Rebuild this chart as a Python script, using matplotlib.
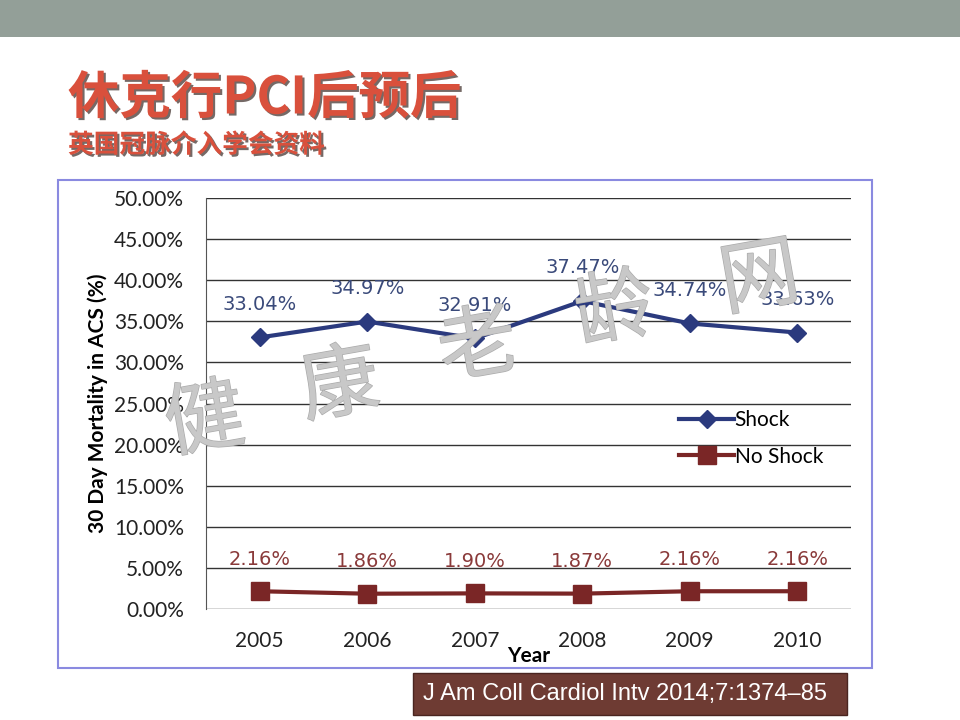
import numpy as np
import matplotlib.pyplot as plt
import matplotlib.patheffects as pe
from matplotlib.patches import Rectangle
from matplotlib.ticker import FuncFormatter

years = ['2005', '2006', '2007', '2008', '2009', '2010']
shock = [33.04, 34.97, 32.91, 37.47, 34.74, 33.63]
no_shock = [2.16, 1.86, 1.90, 1.87, 2.16, 2.16]
watermark = ['健', '康', '老', '龄', '网']

cjk = ['Noto Sans CJK SC', 'DejaVu Sans']
plt.rcParams['font.family'] = ['Lato', 'DejaVu Sans']

fig = plt.figure(figsize=(9.6, 7.2), dpi=100)
W, H = 960, 720

def fx(px):
    return px / W

def fy(py):
    return 1 - py / H

# top band
fig.patches.append(Rectangle((0, fy(37)), 1, 37 / H, transform=fig.transFigure,
                             facecolor='#939F98', edgecolor='none', zorder=0))

# title
shadow = [pe.withSimplePatchShadow(offset=(1.5, -1.5), shadow_rgbFace='#3a2a25', alpha=0.7)]
fig.text(fx(68), fy(98), '休克行PCI后预后', family=cjk, fontweight='black', fontsize=37,
         color='#D9503C', va='center', ha='left', path_effects=shadow)
fig.text(fx(68), fy(145), '英国冠脉介入学会资料', family=cjk, fontweight='black', fontsize=18.5,
         color='#D9503C', va='center', ha='left', path_effects=shadow)

# chart frame
fig.patches.append(Rectangle((fx(58), fy(668)), (872 - 58) / W, (668 - 180) / H,
                             transform=fig.transFigure, facecolor='white',
                             edgecolor='#8A8AE0', linewidth=1.5, zorder=1))

ax = fig.add_axes([fx(206), fy(609), (851 - 206) / W, (609 - 198) / H], zorder=2)
ax.set_facecolor('none')
x = np.arange(len(years))

ax.plot(x, shock, color='#2B3A7E', linewidth=3, marker='D', markersize=9, label='Shock', zorder=3)
ax.plot(x, no_shock, color='#7A2626', linewidth=3, marker='s', markersize=13, label='No Shock', zorder=3)

for xi, v in zip(x, shock):
    ax.annotate(f'{v:.2f}%', (xi, v), xytext=(0, 24), textcoords='offset points',
                ha='center', va='center', fontsize=14, color='#3A4A7A', family='DejaVu Sans')
for xi, v in zip(x, no_shock):
    ax.annotate(f'{v:.2f}%', (xi, v), xytext=(0, 23), textcoords='offset points',
                ha='center', va='center', fontsize=14, color='#8A3A3A', family='DejaVu Sans')

ax.set_xlim(-0.5, 5.5)
ax.set_ylim(0, 50)
ax.set_yticks(np.arange(0, 51, 5))
ax.yaxis.set_major_formatter(FuncFormatter(lambda v, p: f'{v:.2f}%'))
ax.set_xticks(x)
ax.set_xticklabels(years)
ax.tick_params(axis='both', length=0, labelsize=15, colors='#222222')
ax.tick_params(axis='y', pad=16)
ax.tick_params(axis='x', pad=16)
ax.grid(axis='y', color='#333333', linewidth=1)
ax.set_axisbelow(True)
for s in ['top', 'right', 'bottom']:
    ax.spines[s].set_visible(False)
ax.spines['left'].set_color('#555555')

ax.set_xlabel('Year', fontsize=15, fontweight='bold', labelpad=-4)
ax.set_ylabel('30 Day Mortality in ACS (%)', fontsize=15, fontweight='bold', labelpad=4)

ax.legend(loc='upper left', bbox_to_anchor=(0.705, 0.53), frameon=False, fontsize=15,
          handlelength=2.6, labelspacing=0.8, handletextpad=0.05)

# watermark
wm_x = [205, 340, 478, 615, 760]
wm_y = [422, 387, 348, 312, 280]
for ch, px, py in zip(watermark, wm_x, wm_y):
    fig.text(fx(px), fy(py), ch, family=cjk, fontsize=57, color='#C8C8C8', rotation=10,
             ha='center', va='center', zorder=5,
             path_effects=[pe.withStroke(linewidth=1, foreground='#ABABAB')])

# citation
fig.patches.append(Rectangle((fx(413), fy(715)), (847 - 413) / W, (715 - 673) / H,
                             transform=fig.transFigure, facecolor='#6E3B33',
                             edgecolor='#4A2520', linewidth=1, zorder=1))
fig.text(fx(423), fy(694), 'J Am Coll Cardiol Intv 2014;7:1374\u201385', family=['Liberation Sans'],
         fontsize=17, color='white', va='center', ha='left', zorder=2)

fig.savefig('out.png', dpi=100)
